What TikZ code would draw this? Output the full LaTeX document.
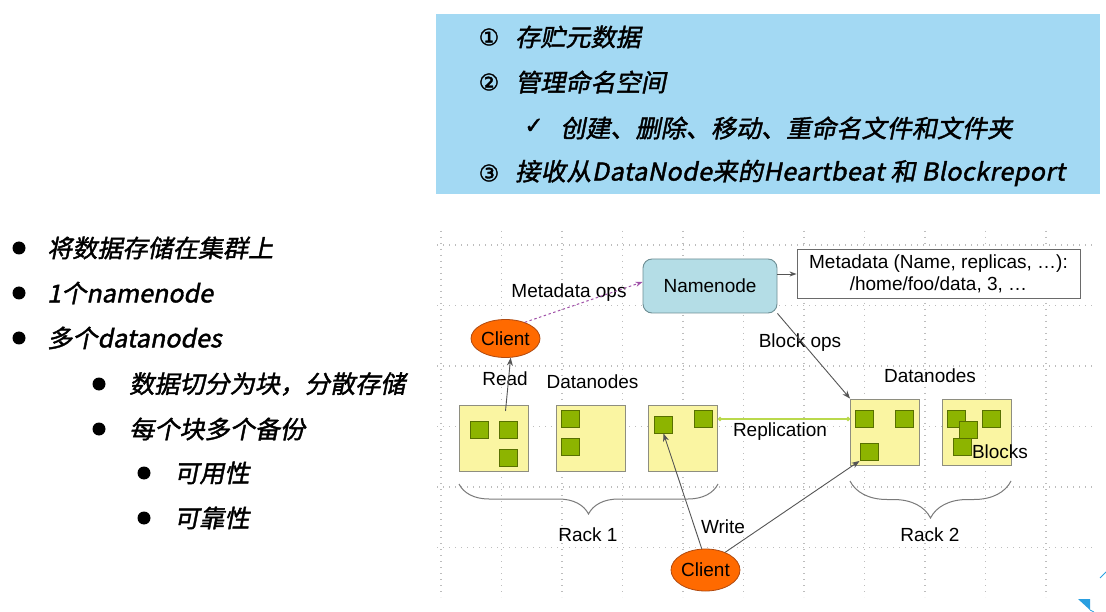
\documentclass[tikz,border=0pt]{standalone}
\usepackage{fontspec}
\setmainfont{Liberation Sans}
\newfontfamily\cjk[FakeSlant=0.2,FakeBold=1.6,FakeStretch=1.025]{Noto Sans CJK SC}
\newfontfamily\symf[FakeBold=1.5]{DejaVu Sans}
\usetikzlibrary{decorations.pathreplacing,arrows.meta,shapes.geometric,calc}
\definecolor{boxblue}{HTML}{A3D9F3}
\definecolor{nnfill}{HTML}{B4DDE6}
\definecolor{nndraw}{HTML}{6E8E94}
\definecolor{dnfill}{HTML}{FAF5A2}
\definecolor{dndraw}{HTML}{8E8E80}
\definecolor{blkfill}{HTML}{8DB400}
\definecolor{blkdraw}{HTML}{587000}
\definecolor{clientfill}{HTML}{FF6A00}
\definecolor{clientdraw}{HTML}{B04A10}
\definecolor{gridc}{HTML}{BDBDBD}
\definecolor{replc}{HTML}{BAD94C}
\definecolor{mopc}{HTML}{A050A8}
\definecolor{linec}{HTML}{555555}
\definecolor{bracec}{HTML}{7A7A7A}
\definecolor{metadraw}{HTML}{6A6A6A}
\definecolor{decoblue}{HTML}{2A9FE0}
\begin{document}
\begin{tikzpicture}[x=1pt,y=-1pt,
  every node/.style={inner sep=0pt},
  lab/.style={font=\fontsize{19}{22}\selectfont},
  cj/.style={font=\cjk\fontsize{24.5}{28}\selectfont, anchor=west},
  num/.style={font=\symf\fontsize{23}{26}\selectfont},
  bul/.style={circle, fill=black, minimum size=13pt},
  dn/.style={draw=dndraw, fill=dnfill, minimum width=69pt, minimum height=66pt, line width=0.9pt},
  blk/.style={draw=blkdraw, fill=blkfill, minimum width=18pt, minimum height=17pt, line width=0.9pt},
  client/.style={ellipse, draw=clientdraw, fill=clientfill, line width=0.8pt, font=\fontsize{19}{22}\selectfont},
  arr/.style={draw=linec, line width=0.9pt, -{Stealth[length=8pt,width=6pt]}},
  gridl/.style={draw=gridc, line width=1.1pt, dash pattern=on 1.1pt off 4.9pt},
  brc/.style={draw=bracec, line width=1pt, decorate, decoration={brace, mirror, amplitude=#1}},
]
\useasboundingbox (0,0) rectangle (1106,612);
\fill[white] (0,0) rectangle (1106,612);

% ---------- blue box ----------
\fill[boxblue] (436,14) rectangle (1100,194);
\node[num] (n1) at (489,37) {①};
\node[cj] (t1) at (515,37) {存贮元数据};
\node[num] (n2) at (489,82) {②};
\node[cj] (t2) at (515,82) {管理命名空间};
\node[num] (ck) at (534,126) {✓};
\node[cj] (t3) at (560,128) {创建、删除、移动、重命名文件和文件夹};
\node[num] (n3) at (489,173) {③};
\node[cj] (t4) at (515,173) {\addfontfeature{LetterSpace=1.8}接收从DataNode来的Heartbeat 和 Blockreport};

% ---------- left list ----------
\node[bul] (b1) at (19,248) {};
\node[cj] (l1) at (47,248) {将数据存储在集群上};
\node[bul] (b2) at (19,293) {};
\node[cj] (l2) at (47,293) {1个namenode};
\node[bul] (b3) at (19,338) {};
\node[cj] (l3) at (47,338) {多个datanodes};
\node[bul] (b4) at (99,384) {};
\node[cj] (l4) at (129,384) {数据切分为块，分散存储};
\node[bul] (b5) at (99,429) {};
\node[cj] (l5) at (129,429) {每个块多个备份};
\node[bul] (b6) at (144,473) {};
\node[cj] (l6) at (174,473) {可用性};
\node[bul] (b7) at (144,518) {};
\node[cj] (l7) at (174,518) {可靠性};

% ---------- grid ----------
\foreach \i in {0,...,10} \draw[gridl] (441+60.5*\i,231) -- (441+60.5*\i,597);
\foreach \y in {245,305.5,366,426.5,487,547.5} \draw[gridl] (437,\y) -- (1096,\y);

% ---------- namenode & metadata ----------
\node[draw=nndraw, fill=nnfill, rounded corners=9pt, minimum width=134pt, minimum height=54pt, line width=0.9pt, lab] (nn) at (710,286) {Namenode};
\node[draw=metadraw, fill=white, minimum width=283pt, minimum height=49pt, line width=0.9pt, align=center, lab] (meta) at (938.5,274) {Metadata (Name, replicas, …):\\/home/foo/data, 3, …};

% ---------- clients ----------
\node[client, minimum width=69pt, minimum height=38pt] (c1) at (505.5,338.5) {Client};
\node[client, minimum width=69pt, minimum height=42pt] (c2) at (705.5,570) {Client};

% ---------- datanodes ----------
\node[dn] (dn1) at (493.5,438) {};
\node[dn] (dn2) at (591,438) {};
\node[dn] (dn3) at (683,438) {};
\node[dn] (dn4) at (885,432) {};
\node[dn] (dn5) at (977,432) {};

\node[blk] (b11) at (479.5,430) {};
\node[blk] (b12) at (508,430) {};
\node[blk] (b13) at (508,457.5) {};
\node[blk] (b21) at (570.5,419) {};
\node[blk] (b22) at (570.5,446.5) {};
\node[blk] (b31) at (663.5,424.5) {};
\node[blk] (b32) at (703.5,419) {};
\node[blk] (b41) at (864.5,419) {};
\node[blk] (b42) at (904,419) {};
\node[blk] (b43) at (869,452) {};
\node[blk] (b51) at (956,419) {};
\node[blk] (b52) at (968,430) {};
\node[blk] (b53) at (962,446.5) {};
\node[blk] (b54) at (991,419) {};

% ---------- labels ----------
\node[lab] (lmo) at (569,293) {Metadata ops};
\node[lab] (lbo) at (800,343) {Block ops};
\node[lab] (lrd) at (505,379) {Read};
\node[lab] (ld1) at (592.5,381.5) {Datanodes};
\node[lab] (ld2) at (930,376) {Datanodes};
\node[lab] (lrep) at (780,432) {Replication};
\node[lab] (lblk) at (1000,452) {Blocks};
\node[lab] (lr1) at (588,535) {Rack 1};
\node[lab] (lr2) at (930,535) {Rack 2};
\node[lab] (lwr) at (723,527) {Write};

% ---------- connectors ----------
\draw[draw=linec, line width=0.9pt, -{Stealth[length=7pt,width=5pt]}] (nn.east |- meta.west) -- (meta.west);
\draw[draw=mopc, line width=1pt, dash pattern=on 2.5pt off 2.5pt, -{Stealth[length=7pt,width=5pt]}] (c1.40) -- ($(nn.west)+(0,-4)$);
\draw[arr] (nn.south east) -- (dn4.north west);
\coordinate (rd) at (505.5,411);
\draw[arr] (rd) -- (c1.-75);
\draw[draw=replc, line width=2pt, {Circle[length=4pt]}-{Circle[length=4pt]}] (dn3.east |- b32) -- (dn4.west |- b41);
\draw[arr] (c2.100) -- (b31.south);
\draw[arr] (c2.42) -- (b43.south west);

% ---------- braces ----------
\draw[brc=30pt] (459,484) -- (718,484);
\draw[brc=37pt] (850,481) -- (1011,481);

% ---------- corner decoration ----------
\fill[decoblue] (1078,599) -- (1090,599) -- (1090,610) -- cycle;
\draw[decoblue, line width=0.8pt] (1090,610) -- (1094,612);
\draw[decoblue, line width=0.8pt] (1100,578) -- (1106,572);
\end{tikzpicture}
\end{document}
